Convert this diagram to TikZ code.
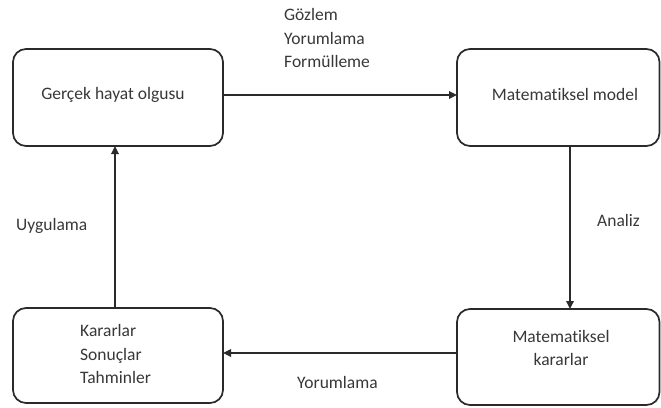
\documentclass[tikz,border=0pt]{standalone}
\usepackage{fontspec}
\setmainfont{Carlito}[Ligatures={NoCommon}]
\usetikzlibrary{arrows.meta}
\definecolor{inkline}{HTML}{2A2A2A}
\definecolor{inktext}{HTML}{383838}
\begin{document}
\begin{tikzpicture}[x=1pt,y=-1pt,
  stagebox/.style={draw=inkline, line width=1.7pt, rounded corners=13pt, fill=white},
  flow/.style={draw=inkline, line width=1.7pt, -{Triangle[length=8pt,width=7.5pt]}},
  txt/.style={text=inktext, font=\fontsize{17.5}{23.5}\selectfont, inner sep=0pt},
]
\useasboundingbox (0,0) rectangle (661,407);

% four stages of the modelling cycle
\draw[stagebox] (13,49) rectangle (223,146);
\draw[stagebox] (457,49) rectangle (659.5,146);
\draw[stagebox] (13,308) rectangle (223,403);
\draw[stagebox] (457,309) rectangle (659.5,405);

\coordinate (r1) at (223,95);
\coordinate (l2) at (457,95);
\coordinate (b2) at (570,146);
\coordinate (t4) at (570,309);
\coordinate (l4) at (457,353);
\coordinate (r3) at (223,353);
\coordinate (t3) at (115,308);
\coordinate (b1) at (115,146);

% box texts
\node[txt] (real) at (113,95) {Gerçek hayat olgusu};
\node[txt] (model) at (565,94) {Matematiksel model};
\node[txt, align=center] (mdec) at (561,348) {Matematiksel\\kararlar};
\node[txt, align=left, anchor=west] (res) at (80,354) {Kararlar\\Sonuçlar\\Tahminler};

% connectors
\draw[flow] (r1) -- (l2);
\draw[flow] (b2) -- (t4);
\draw[flow] (l4) -- (r3);
\draw[flow] (t3) -- (b1);

% connector labels
\node[txt, align=left, anchor=west] (lab1) at (284,38) {Gözlem\\Yorumlama\\Formülleme};
\node[txt, anchor=west] (lab2) at (597,220) {Analiz};
\node[txt, anchor=west] (lab3) at (16,226) {Uygulama};
\node[txt, anchor=west] (lab4) at (297,382) {Yorumlama};
\end{tikzpicture}
\end{document}
